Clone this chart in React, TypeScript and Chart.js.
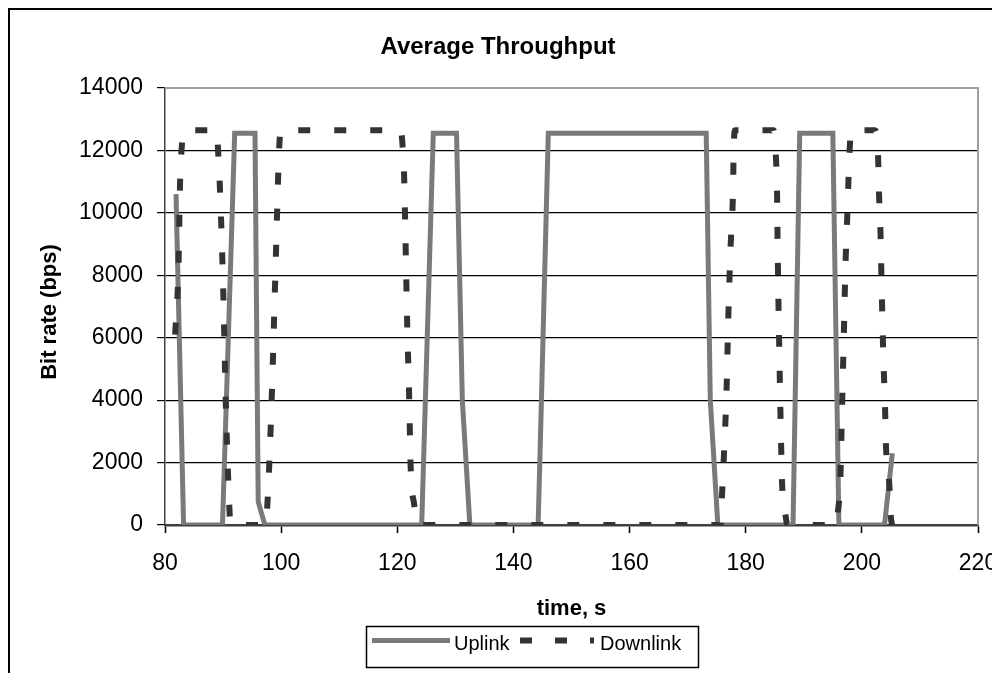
import { useEffect, useRef } from "react";
import { Chart, registerables } from "chart.js";

Chart.register(...registerables);

const chartTitle = "Average Throughput";
const xAxisTitle = "time, s";
const yAxisTitle = "Bit rate (bps)";
const seriesNames = ["Uplink", "Downlink"];

const xTickValues = [80, 100, 120, 140, 160, 180, 200, 220];
const yTickValues = [0, 2000, 4000, 6000, 8000, 10000, 12000, 14000];

const uplinkTime = [
  81.9, 83.2, 89.9, 92.0, 95.5, 96.05, 97.2,
  124.2, 126.2, 130.2, 131.2, 132.5,
  144.25, 144.6, 146.0, 173.2, 173.9, 175.2,
  188.15, 189.3, 195.0, 196.05,
  203.9, 205.25,
];
const uplinkRate = [
  10600, 0, 0, 12550, 12550, 750, 0,
  0, 12550, 12550, 4000, 0,
  0, 2400, 12550, 12550, 4000, 0,
  0, 12550, 12550, 0,
  0, 2300,
];

const downlinkTime = [
  81.75, 82.3, 82.6, 82.9, 83.3, 88.9, 89.2, 89.5, 90.0, 90.5, 90.9, 91.3,
  97.3, 97.7, 98.4, 99.0, 99.7, 100.0,
  120.6, 120.9, 121.2, 121.4, 121.7, 122.05, 122.3, 122.9, 123.5,
  175.7, 175.9, 176.2, 176.7, 177.0, 177.4, 177.8, 177.95, 178.2,
  184.8, 185.2, 185.4, 185.5, 185.85, 186.1, 186.25, 186.9, 187.2,
  195.6, 195.85, 196.3, 196.6, 196.9, 197.2, 197.55, 197.85, 198.2,
  202.2, 202.8, 202.95, 203.2, 203.4, 203.7, 204.0, 204.15, 204.7, 205.0, 205.2,
];
const downlinkRate = [
  6100, 8100, 11000, 12150, 12650, 12650, 11780, 10600, 7700, 3700, 1400, 0,
  0, 900, 4200, 8000, 12200, 12650,
  12650, 12180, 11040, 9300, 6500, 4100, 1860, 670, 0,
  0, 890, 2030, 4330, 6630, 8920, 10600, 12200, 12650,
  12650, 11780, 10610, 8900, 4900, 2540, 1390, 250, 0,
  0, 370, 1500, 3830, 6130, 8440, 10200, 11860, 12650,
  12650, 11780, 10630, 9450, 7700, 5400, 3720, 2540, 1390, 250, 0,
];

const FONT = "'Liberation Sans', Arial, sans-serif";
const UPLINK_COLOR = "#7a7a7a";
const DOWNLINK_COLOR = "#333333";

const toPoints = (xs: number[], ys: number[]) => xs.map((x, i) => ({ x, y: ys[i] }));

const decorPlugin = {
  id: "decor",
  beforeDraw(chart: any) {
    const { ctx } = chart;
    ctx.save();
    ctx.fillStyle = "#fff";
    ctx.fillRect(0, 0, chart.width, chart.height);
    ctx.restore();
  },
  beforeDatasetsDraw(chart: any) {
    const { ctx, chartArea } = chart;
    ctx.save();
    ctx.strokeStyle = "#a0a0a0";
    ctx.lineWidth = 2;
    ctx.beginPath();
    ctx.moveTo(chartArea.left, chartArea.top);
    ctx.lineTo(chartArea.right, chartArea.top);
    ctx.lineTo(chartArea.right, chartArea.bottom);
    ctx.stroke();
    ctx.restore();
  },
  afterDraw(chart: any) {
    const { ctx } = chart;
    ctx.save();
    // outer frame (left, top, right)
    ctx.strokeStyle = "#000";
    ctx.lineWidth = 2;
    ctx.beginPath();
    ctx.moveTo(1, chart.height);
    ctx.lineTo(1, 1);
    ctx.lineTo(985, 1);
    ctx.lineTo(985, chart.height);
    ctx.stroke();

    // title
    ctx.fillStyle = "#000";
    ctx.font = `bold 24px ${FONT}`;
    ctx.textAlign = "center";
    ctx.textBaseline = "middle";
    ctx.fillText(chartTitle, 490, 39);

    // y axis title
    ctx.save();
    ctx.translate(42, 304);
    ctx.rotate(-Math.PI / 2);
    ctx.font = `bold 22px ${FONT}`;
    ctx.fillText(yAxisTitle, 0, 0);
    ctx.restore();

    // legend
    ctx.strokeStyle = "#000";
    ctx.lineWidth = 1.5;
    ctx.setLineDash([]);
    ctx.strokeRect(358.5, 618.5, 332, 41);

    ctx.lineCap = "butt";
    ctx.lineWidth = 5;
    ctx.strokeStyle = UPLINK_COLOR;
    ctx.beginPath();
    ctx.moveTo(364, 632.5);
    ctx.lineTo(442, 632.5);
    ctx.stroke();

    ctx.strokeStyle = DOWNLINK_COLOR;
    ctx.lineWidth = 6;
    ctx.setLineDash([12, 23]);
    ctx.beginPath();
    ctx.moveTo(512, 632.5);
    ctx.lineTo(586, 632.5);
    ctx.stroke();
    ctx.setLineDash([]);

    ctx.fillStyle = "#000";
    ctx.font = `20px ${FONT}`;
    ctx.textAlign = "left";
    ctx.textBaseline = "middle";
    ctx.fillText(seriesNames[0], 446, 636);
    ctx.fillText(seriesNames[1], 592, 636);
    ctx.restore();
  },
};

export default function App() {
  const canvasRef = useRef<HTMLCanvasElement | null>(null);

  useEffect(() => {
    if (!canvasRef.current) return;
    const chart = new Chart(canvasRef.current, {
      type: "scatter",
      data: {
        datasets: [
          {
            label: seriesNames[0],
            data: toPoints(uplinkTime, uplinkRate),
            showLine: true,
            borderColor: UPLINK_COLOR,
            backgroundColor: UPLINK_COLOR,
            borderWidth: 5,
            pointRadius: 0,
            tension: 0,
            borderJoinStyle: "miter",
            order: 1,
          },
          {
            label: seriesNames[1],
            data: toPoints(downlinkTime, downlinkRate),
            showLine: true,
            borderColor: DOWNLINK_COLOR,
            backgroundColor: DOWNLINK_COLOR,
            borderWidth: 6,
            borderDash: [12, 24],
            borderCapStyle: "butt",
            pointRadius: 0,
            cubicInterpolationMode: "monotone",
            order: 0,
          },
        ],
      },
      options: {
        responsive: false,
        animation: false,
        layout: { padding: { left: 0, right: 22, top: 80, bottom: 63 } },
        plugins: {
          legend: { display: false },
          title: { display: false },
          tooltip: { enabled: false },
        },
        scales: {
          x: {
            type: "linear",
            min: 80,
            max: 220,
            afterBuildTicks: (s: any) => {
              s.ticks = xTickValues.map((v) => ({ value: v }));
            },
            afterFit: (s: any) => {
              s.height = 100;
              s.paddingLeft = 0;
              s.paddingRight = 0;
            },
            ticks: {
              color: "#000",
              font: { family: FONT, size: 23 },
              padding: 17,
              maxRotation: 0,
              autoSkip: false,
              callback: (v: any) => String(v),
            },
            grid: {
              drawOnChartArea: false,
              drawTicks: true,
              tickLength: 8,
              tickColor: "#000",
              tickWidth: 1.5,
            },
            border: { color: "#404040", width: 2.5 },
            title: {
              display: true,
              text: xAxisTitle,
              color: "#000",
              font: { family: FONT, size: 22, weight: "bold" },
              padding: { top: 0, bottom: 3 },
            },
          },
          y: {
            type: "linear",
            min: 0,
            max: 14000,
            afterBuildTicks: (s: any) => {
              s.ticks = yTickValues.map((v) => ({ value: v }));
            },
            afterFit: (s: any) => {
              s.width = 157;
              s.paddingTop = 0;
              s.paddingBottom = 0;
            },
            ticks: {
              color: "#000",
              font: { family: FONT, size: 23 },
              padding: 14,
              autoSkip: false,
              callback: (v: any) => String(v),
            },
            grid: {
              color: (c: any) => (c.tick && c.tick.value === 14000 ? "rgba(0,0,0,0)" : "#000"),
              lineWidth: 1.2,
              drawTicks: true,
              tickLength: 8,
              tickColor: "#000",
            },
            border: { color: "#404040", width: 1.5 },
            title: { display: false },
          },
        },
      },
      plugins: [decorPlugin],
    } as any);
    return () => chart.destroy();
  }, []);

  return (
    <canvas ref={canvasRef} width={992} height={680} style={{ display: "block" }} />
  );
}
